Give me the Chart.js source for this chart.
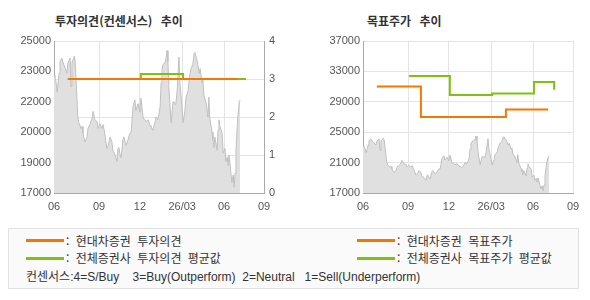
<!DOCTYPE html>
<html lang="ko">
<head>
<meta charset="utf-8">
<script src="https://cdn.jsdelivr.net/npm/chart.js@4.4.1/dist/chart.umd.min.js"></script>
<style>
  body { margin: 0; width: 590px; height: 300px; background: #fff; position: relative; overflow: hidden; font-family: "Noto Sans CJK KR", sans-serif; }
  .panel { position: absolute; top: 0; width: 295px; height: 215px; }
  .title { position: absolute; top: 13px; font-size: 12px; font-weight: bold; color: #333; word-spacing: 5px; line-height: 16px; white-space: pre; }
  .legend { position: absolute; left: 8px; top: 228px; width: 571px; height: 61px; box-sizing: border-box; border: 1px solid #e2e2e2; background: #fafafa; }
  .swatch { position: absolute; width: 38px; height: 3px; }
  .ltext { position: absolute; font-size: 12px; color: #333; line-height: 14px; white-space: pre; word-spacing: 3px; }
  .consensus { font-family: "Liberation Sans", "Noto Sans CJK KR", sans-serif; word-spacing: 0; }
</style>
</head>
<body>

<div class="title" style="left:55px">투자의견(컨센서스) 추이</div>
<div class="title" style="left:367px">목표주가 추이</div>

<div class="panel" style="left:0"><canvas id="opinionChart" width="295" height="215"></canvas></div>
<div class="panel" style="left:295px"><canvas id="targetChart" width="295" height="215"></canvas></div>

<div class="legend">
  <div class="swatch" style="left:17px;top:10px;background:#f47800"></div>
  <div class="ltext" style="left:57px;top:5px">: 현대차증권 투자의견</div>
  <div class="swatch" style="left:17px;top:28px;background:#80c010"></div>
  <div class="ltext" style="left:57px;top:22px">: 전체증권사 투자의견 평균값</div>
  <div class="swatch" style="left:348px;top:10px;background:#f47800"></div>
  <div class="ltext" style="left:388px;top:5px">: 현대차증권 목표주가</div>
  <div class="swatch" style="left:348px;top:28px;background:#80c010"></div>
  <div class="ltext" style="left:388px;top:22px">: 전체증권사 목표주가 평균값</div>
  <div class="ltext consensus" style="left:17px;top:41px">컨센서스:4=S/Buy    3=Buy(Outperform)  2=Neutral   1=Sell(Underperform)</div>
</div>

<script>
// x values are days since 2025-06-01
const tickDays = [0, 98, 187, 279, 370, 457];
const tickLabels = ['06', '09', '12', '26/03', '06', '09'];

// stock price (same series on both panels)
const priceDays = [
  0, 2, 4, 7, 9, 11, 13, 15, 17, 20,
  24, 28, 30, 35, 37, 39, 44, 46, 50, 52,
  54, 59, 61, 63, 67, 72, 74, 78, 83, 85,
  89, 94, 96, 100, 104, 107, 111, 115, 118, 122,
  126, 128, 133, 137, 139, 141, 144, 146, 150, 152,
  157, 161, 165, 168, 172, 176, 178, 183, 187, 189,
  194, 198, 200, 205, 209, 211, 215, 220, 222, 226,
  231, 233, 235, 237, 242, 244, 246, 248, 250, 252,
  255, 259, 263, 265, 268, 272, 274, 276, 281, 285,
  287, 292, 294, 298, 302, 305, 307, 311, 313, 316,
  318, 322, 324, 326, 331, 335, 337, 339, 344, 346,
  348, 350, 355, 357, 359, 361, 366, 368, 372, 374,
  377, 379, 381, 385, 387, 390, 392, 394, 396, 398,
  400, 403, 405
];
const priceValues = [
  23200, 23100, 22900, 22300, 22800, 23300, 23900, 24000, 24100, 23850,
  23600, 23300, 23800, 24100, 22600, 23850, 24200, 24000, 21900, 20950,
  20700, 20400, 20500, 20150, 19700, 19950, 20400, 20600, 20950, 21300,
  20850, 20750, 20400, 20650, 20400, 20600, 20050, 19350, 19500, 19950,
  19700, 19250, 19000, 18650, 19300, 19400, 19000, 18850, 19800, 19950,
  19500, 19800, 20150, 20200, 21550, 21900, 21350, 21700, 21250, 22000,
  20950, 20850, 20750, 20850, 20550, 20500, 20300, 20750, 21000, 20850,
  21550, 22800, 23500, 23750, 23900, 24150, 24500, 23900, 22600, 21750,
  20700, 21800, 21750, 21650, 22400, 24150, 22800, 22250, 20700, 21350,
  22000, 22400, 22950, 23550, 23750, 24350, 24400, 24000, 23750, 23300,
  23550, 22800, 22950, 22150, 21750, 21000, 22050, 20950, 20200, 19800,
  19400, 19950, 19250, 20300, 20850, 20500, 20150, 19100, 19350, 18650,
  18900, 18450, 19000, 18050, 17550, 17950, 17300, 18050, 19250, 20150,
  21000, 21750, 21900
];

// investment opinion (4=S/Buy ... 1=Sell)
const opinionDays = [30, 400];
const opinionValues = [3, 3];
const avgOpinionDays = [30, 189, 281, 418];
const avgOpinionValues = [3, 3.13, 3, 3];

// target price
const targetDays = [30, 126, 311, 403];
const targetValues = [31000, 27000, 28000, 28000];
const avgTargetDays = [100, 189, 281, 372, 416];
const avgTargetValues = [32400, 29900, 30100, 31600, 30600];

// axis labels
const leftPriceTicks = [17000, 18600, 20200, 21800, 23400, 25000];
const leftPriceLabels = ['17000', '19000', '20000', '22000', '23000', '25000'];

const ORANGE = '#f47800';
const GREEN = '#80c010';
const GRID = '#e4e4e4';
const AXIS = '#aaaaaa';
const TICK_FONT = { family: '"Liberation Sans", Arial, sans-serif', size: 11 };
const TICK_COLOR = '#555';

const toPoints = (xs, ys) => xs.map((x, i) => ({ x: x, y: ys[i] }));

function priceDataset(axisId) {
    return {
        type: 'line',
        data: toPoints(priceDays, priceValues),
        yAxisID: axisId,
        borderColor: '#c0c0c0',
        backgroundColor: '#e0e0e0',
        borderWidth: 1,
        pointRadius: 0,
        fill: 'start',
        tension: 0,
        order: 3
    };
}

function stepDataset(xs, ys, color, axisId, order) {
    return {
        type: 'line',
        data: toPoints(xs, ys),
        yAxisID: axisId,
        borderColor: color,
        borderWidth: 2,
        pointRadius: 0,
        stepped: true,
        fill: false,
        order: order
    };
}

function dateAxis() {
    return {
        type: 'linear',
        min: 0,
        max: 457,
        afterBuildTicks: s => { s.ticks = tickDays.map(v => ({ value: v })); },
        afterFit: s => { s.height = 22; },
        ticks: {
            callback: (v, i) => tickLabels[i],
            autoSkip: false,
            maxRotation: 0,
            padding: 7,
            font: TICK_FONT,
            color: TICK_COLOR
        },
        grid: { color: GRID, drawTicks: false },
        border: { color: AXIS }
    };
}

const commonOptions = {
    responsive: false,
    devicePixelRatio: 1,
    animation: false,
    plugins: { legend: { display: false }, tooltip: { enabled: false } }
};

// left panel: investment opinion
new Chart(document.getElementById('opinionChart'), {
    data: {
        datasets: [
            stepDataset(opinionDays, opinionValues, ORANGE, 'yR', 1),
            stepDataset(avgOpinionDays, avgOpinionValues, GREEN, 'yR', 2),
            priceDataset('yL')
        ]
    },
    options: {
        ...commonOptions,
        layout: { padding: { top: 41, left: 0, right: 0, bottom: 0 } },
        scales: {
            x: dateAxis(),
            yL: {
                position: 'left',
                min: 17000,
                max: 25000,
                afterBuildTicks: s => { s.ticks = leftPriceTicks.map(v => ({ value: v })); },
                afterFit: s => { s.width = 54; },
                ticks: { callback: (v, i) => leftPriceLabels[i], padding: 3, font: TICK_FONT, color: TICK_COLOR },
                grid: { display: false, drawTicks: false },
                border: { color: AXIS }
            },
            yR: {
                position: 'right',
                min: 0,
                max: 4,
                afterFit: s => { s.width = 31; },
                ticks: { stepSize: 1, padding: 5, font: TICK_FONT, color: TICK_COLOR },
                grid: { color: GRID, drawTicks: false },
                border: { color: AXIS }
            }
        }
    }
});

// right panel: target price
new Chart(document.getElementById('targetChart'), {
    data: {
        datasets: [
            stepDataset(targetDays, targetValues, ORANGE, 'y', 1),
            stepDataset(avgTargetDays, avgTargetValues, GREEN, 'y', 2),
            priceDataset('y')
        ]
    },
    options: {
        ...commonOptions,
        layout: { padding: { top: 41, left: 0, right: 17, bottom: 0 } },
        scales: {
            x: dateAxis(),
            y: {
                position: 'left',
                min: 17000,
                max: 37000,
                afterFit: s => { s.width = 68; },
                ticks: { stepSize: 4000, callback: v => String(v), padding: 3, font: TICK_FONT, color: TICK_COLOR },
                grid: { color: GRID, drawTicks: false },
                border: { color: AXIS }
            }
        }
    }
});
</script>
</body>
</html>
